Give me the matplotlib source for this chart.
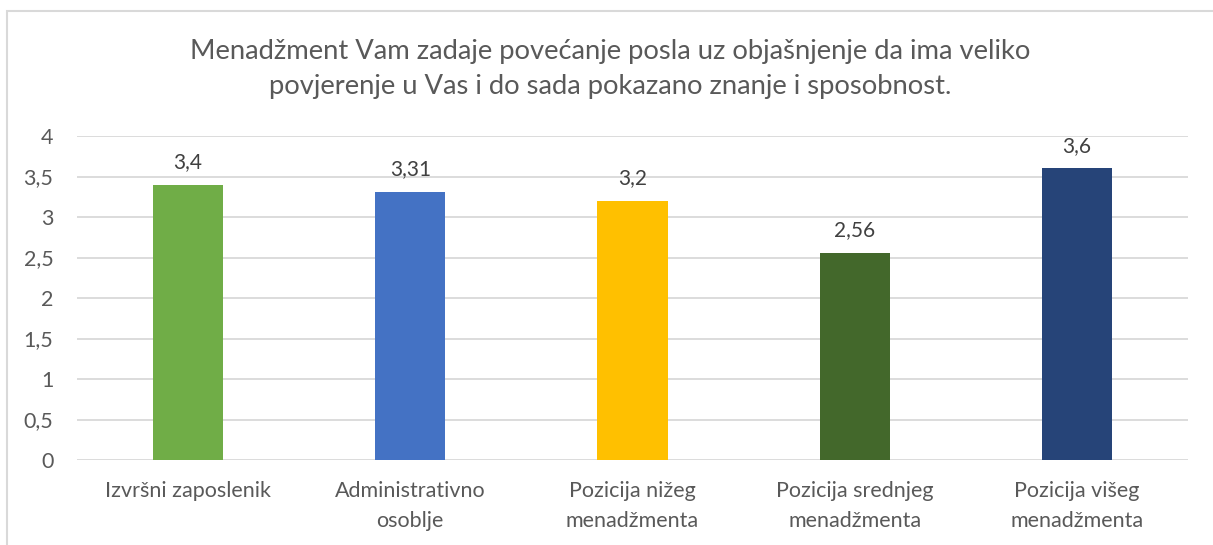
import matplotlib
matplotlib.use("Agg")
import matplotlib.pyplot as plt
from matplotlib.patches import Rectangle

categories = ["Izvršni zaposlenik", "Administrativno\nosoblje", "Pozicija nižeg\nmenadžmenta",
              "Pozicija srednjeg\nmenadžmenta", "Pozicija višeg\nmenadžmenta"]
values = [3.4, 3.31, 3.2, 2.56, 3.6]
value_labels = ["3,4", "3,31", "3,2", "2,56", "3,6"]
colors = ["#70AD47", "#4472C4", "#FFC000", "#43682B", "#264478"]
yticks = [0, 0.5, 1, 1.5, 2, 2.5, 3, 3.5, 4]
ytick_labels = ["0", "0,5", "1", "1,5", "2", "2,5", "3", "3,5", "4"]
title = ("Menadžment Vam zadaje povećanje posla uz objašnjenje da ima veliko\n"
         "povjerenje u Vas i do sada pokazano znanje i sposobnost.")

plt.rcParams["font.family"] = ["Lato", "DejaVu Sans"]
text_color = "#595959"

fig = plt.figure(figsize=(12.13, 5.45), dpi=100)
fig.patches.append(Rectangle((7 / 1213, -0.1), 1.2, 1 - 11 / 545 + 0.1, transform=fig.transFigure,
                             fill=False, edgecolor="#D9D9D9", linewidth=1.5))
ax = fig.add_axes([77 / 1213, 1 - 460 / 545, 1111 / 1213, 324 / 545])

x = range(len(categories))
ax.bar(x, values, width=0.316, color=colors, zorder=3)
for xi, v, lab in zip(x, values, value_labels):
    ax.annotate(lab, (xi, v), xytext=(0, 9), textcoords="offset points",
                ha="center", va="bottom", fontsize=15, color="#404040")

ax.set_xlim(-0.5, len(categories) - 0.5)
ax.set_ylim(0, 4)
ax.set_yticks(yticks)
ax.set_yticklabels(ytick_labels)
ax.set_xticks(list(x))
ax.set_xticklabels(categories, linespacing=1.62)
ax.tick_params(axis="both", length=0, labelsize=15.5, colors=text_color)
ax.tick_params(axis="y", pad=17)
ax.tick_params(axis="x", pad=15)
ax.grid(axis="y", color="#D9D9D9", linewidth=1.3, zorder=0)
for s in ax.spines.values():
    s.set_visible(False)

fig.text(0.503, 1 - 69 / 545, title, ha="center", va="center", fontsize=19.7,
         color=text_color, linespacing=1.48)

fig.savefig("out.png", dpi=100)
